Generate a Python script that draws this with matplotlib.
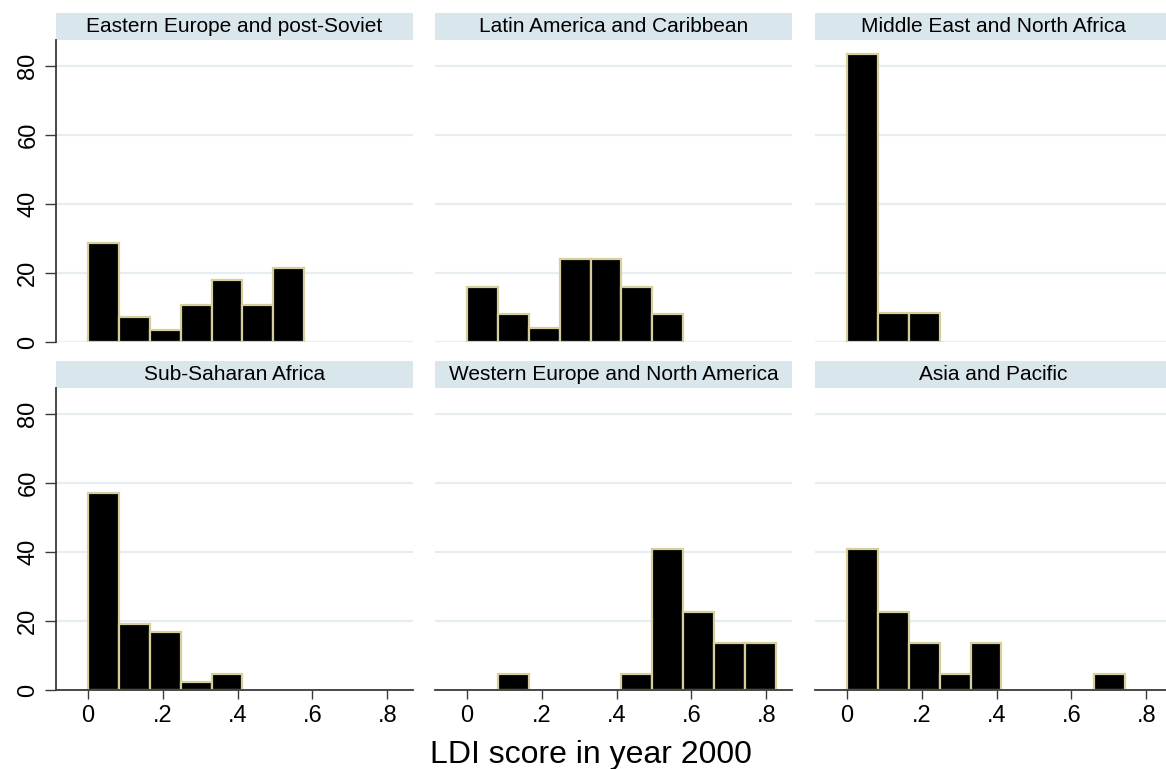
import matplotlib
matplotlib.use("Agg")
import matplotlib.pyplot as plt
import numpy as np
from matplotlib.patches import Rectangle

plt.rcParams['font.family'] = ['Liberation Sans', 'DejaVu Sans']

regions = ["Eastern Europe and post-Soviet", "Latin America and Caribbean",
           "Middle East and North Africa", "Sub-Saharan Africa",
           "Western Europe and North America", "Asia and Pacific"]

bin_width = 0.0826

# percent of countries in each bin, bins start at 0
eastern_europe = [28.57, 7.14, 3.57, 10.71, 17.86, 10.71, 21.43]
latin_america = [16, 8, 4, 24, 24, 16, 8]
middle_east = [83.33, 8.33, 8.33]
sub_saharan = [57.14, 19.05, 16.67, 2.38, 4.76]
western_europe = [0, 4.55, 0, 0, 0, 4.55, 40.91, 22.73, 13.64, 13.64]
asia_pacific = [40.91, 22.73, 13.64, 4.55, 13.64, 0, 0, 0, 4.55]

heights = [eastern_europe, latin_america, middle_east,
           sub_saharan, western_europe, asia_pacific]

yticks = [0, 20, 40, 60, 80]
xticks = [0, 0.2, 0.4, 0.6, 0.8]
xtick_labels = ["0", ".2", ".4", ".6", ".8"]

W, H = 1166, 769
fig = plt.figure(figsize=(W / 100, H / 100), dpi=100)

col_left = [56, 435, 815]
row_bottom = [342, 690]
ax_w, ax_h, strip_h = 357, 302, 27

grid_col = '#e6eef1'
strip_col = '#d9e6ec'
spine_col = '#3a3a3a'
edge_col = '#d6cf9c'

for i, (name, h) in enumerate(zip(regions, heights)):
    r, c = divmod(i, 3)
    ax = fig.add_axes([col_left[c] / W, 1 - row_bottom[r] / H, ax_w / W, ax_h / H])
    left = np.arange(len(h)) * bin_width
    mask = np.array(h) > 0
    ax.bar(left[mask], np.array(h)[mask], width=bin_width, align='edge',
           color='black', edgecolor=edge_col, linewidth=1.6, zorder=3)
    ax.set_xlim(-0.0856, 0.869)
    ax.set_ylim(0, 87.5)
    ax.set_yticks(yticks)
    ax.set_xticks(xticks)
    ax.set_xticklabels(xtick_labels)
    for y in yticks:
        ax.axhline(y, color=grid_col, lw=1.6, zorder=1)
    for s in ['top', 'right']:
        ax.spines[s].set_visible(False)

    # y axis only in the first column
    if c == 0:
        ax.spines['left'].set_color(spine_col)
        ax.spines['left'].set_linewidth(1.3)
        ax.tick_params(axis='y', length=8, width=1, color=spine_col,
                       labelsize=17, labelrotation=90, pad=4)
        for lbl in ax.get_yticklabels():
            lbl.set_va('center')
    else:
        ax.spines['left'].set_visible(False)
        ax.tick_params(axis='y', left=False, labelleft=False)

    # x axis only in the bottom row
    if r == 1:
        ax.spines['bottom'].set_color(spine_col)
        ax.spines['bottom'].set_linewidth(1.3)
        ax.spines['bottom'].set_zorder(4)
        ax.tick_params(axis='x', length=6.5, width=1, color=spine_col,
                       labelsize=17, pad=4)
    else:
        ax.spines['bottom'].set_visible(False)
        ax.tick_params(axis='x', bottom=False, labelbottom=False)

    # strip label on top
    sh = strip_h / ax_h
    ax.add_patch(Rectangle((0, 1), 1, sh, transform=ax.transAxes,
                           facecolor=strip_col, edgecolor='none', clip_on=False))
    ax.text(0.5, 1 + sh / 2, name, transform=ax.transAxes, ha='center',
            va='center', fontsize=15, color='black')

fig.text(591 / W, 1 - 763 / H, "LDI score in year 2000", ha='center',
         va='baseline', fontsize=23)

fig.savefig("out.png", dpi=100)
